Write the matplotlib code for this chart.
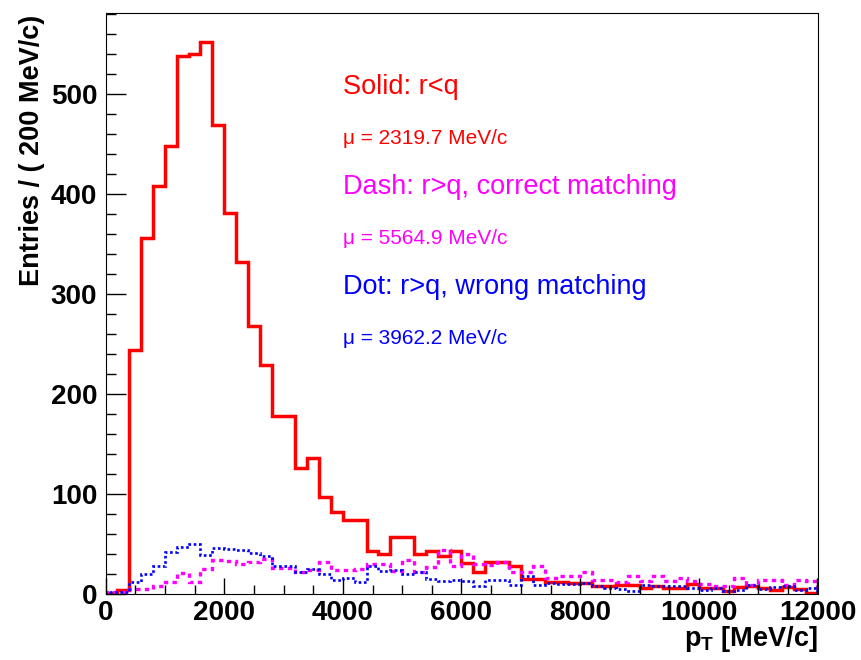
import numpy as np
import matplotlib.pyplot as plt
from matplotlib.ticker import MultipleLocator

plt.rcParams["font.family"] = ["Liberation Sans", "DejaVu Sans"]
plt.rcParams["mathtext.fontset"] = "custom"
plt.rcParams["mathtext.rm"] = "Liberation Sans"
plt.rcParams["mathtext.bf"] = "Liberation Sans:bold"

# pT histograms, 60 bins of 200 MeV/c from 0 to 12000
bin_width = 200
n_bins = 60
edges = bin_width * np.arange(n_bins + 1)

solid = [1, 4, 244, 356, 408, 448, 538, 540, 552, 469,
         381, 332, 268, 229, 178, 178, 126, 136, 97, 82,
         74, 74, 43, 40, 57, 57, 40, 43, 38, 43,
         31, 22, 32, 32, 28, 15, 15, 12, 12, 11,
         11, 8, 8, 9, 9, 6, 8, 6, 6, 10,
         6, 6, 3, 7, 8, 6, 4, 7, 5, 1]

dash = [2, 2, 5, 5, 8, 12, 21, 12, 25, 34,
        33, 30, 32, 35, 26, 26, 22, 24, 32, 24,
        24, 25, 30, 30, 23, 34, 22, 27, 44, 28,
        40, 30, 29, 32, 22, 22, 28, 16, 18, 18,
        22, 14, 14, 12, 18, 13, 18, 13, 16, 13,
        10, 8, 8, 16, 9, 14, 14, 9, 14, 13]

dot = [2, 2, 12, 20, 28, 42, 47, 50, 39, 46,
       45, 44, 41, 38, 28, 28, 22, 25, 20, 14,
       16, 12, 28, 23, 24, 20, 22, 15, 13, 14,
       13, 8, 14, 14, 9, 18, 9, 11, 10, 10,
       11, 8, 6, 5, 3, 9, 8, 8, 8, 6,
       4, 6, 3, 4, 9, 5, 7, 8, 4, 6]

labels = ["Solid: r<q", "\u03bc = 2319.7 MeV/c",
          "Dash: r>q, correct matching", "\u03bc = 5564.9 MeV/c",
          "Dot: r>q, wrong matching", "\u03bc = 3962.2 MeV/c"]
label_y = [500, 450, 400, 350, 300, 250]
label_size = [19.5, 15, 19.5, 15, 19.5, 15]
label_color = ["#ff0000", "#ff0000", "#ff00ff", "#ff00ff", "#0000ff", "#0000ff"]

fig = plt.figure(figsize=(8.61, 6.6), dpi=100)
ax = fig.add_axes([105.5 / 861, 65.7 / 660, 712 / 861, 581.6 / 660])

ax.stairs(solid, edges, color="#ff0000", lw=2.5)
ax.stairs(dash, edges, color="#ff00ff", lw=2.4, linestyle=(0, (1.3, 1.3)))
ax.stairs(dot, edges, color="#0000ff", lw=1.9, linestyle=(0, (1.0, 1.0)))

ax.set_xlim(0, 12000)
ax.set_ylim(0, 581.6)
ax.set_xticks(np.arange(0, 12001, 2000))
ax.set_yticks(np.arange(0, 501, 100))
ax.xaxis.set_minor_locator(MultipleLocator(500))
ax.yaxis.set_minor_locator(MultipleLocator(20))
ax.tick_params(which="both", direction="in", top=False, right=False, width=1)
ax.tick_params(axis="x", which="major", length=11.5, labelsize=20, pad=4)
ax.tick_params(axis="x", which="minor", length=6.3)
ax.tick_params(axis="y", which="major", length=14.4, labelsize=20, pad=6)
ax.tick_params(axis="y", which="minor", length=7.2)
for lab in ax.get_xticklabels() + ax.get_yticklabels():
    lab.set_fontweight("bold")

for t, y, s, c in zip(labels, label_y, label_size, label_color):
    ax.text(4000, y, t, color=c, fontsize=s)

ax.text(1.0, -0.089, r"$\mathbf{p_{T}}$ [MeV/c]", transform=ax.transAxes,
        ha="right", va="baseline", fontsize=19.5, fontweight="bold")
fig.text(32 / 861, 1 - 15 / 660, "Entries / ( 200 MeV/c)", rotation=90,
         ha="center", va="top", fontsize=19.5, fontweight="bold")

fig.savefig("out.png", dpi=100)
